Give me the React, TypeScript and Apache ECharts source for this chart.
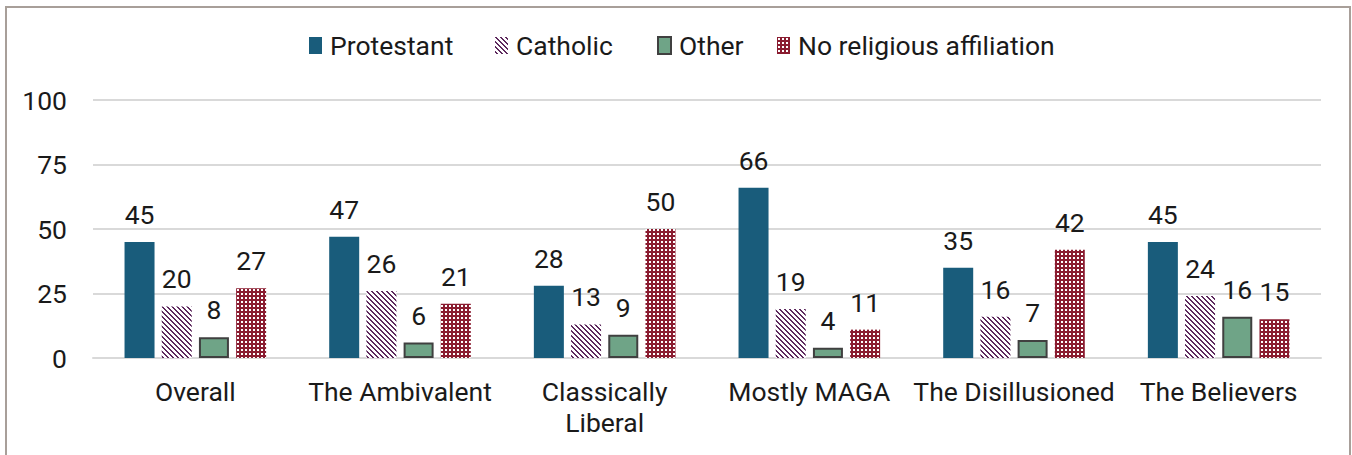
import React, { useEffect, useRef } from "react";
import * as echarts from "echarts";

const categories = ["Overall", "The Ambivalent", "Classically Liberal", "Mostly MAGA", "The Disillusioned", "The Believers"];
const seriesNames = ["Protestant", "Catholic", "Other", "No religious affiliation"];
const protestant = [45, 47, 28, 66, 35, 45];
const catholic = [20, 26, 13, 19, 16, 24];
const other = [8, 6, 9, 4, 7, 16];
const noReligion = [27, 21, 50, 11, 42, 15];
const yTicks = [0, 25, 50, 75, 100];

const FONT = "Roboto";
const TEXT = "#1a1a1a";
const legendLefts = [309, 495, 657, 777];

function stripePattern() {
  const c = document.createElement("canvas");
  const n = 5;
  c.width = n;
  c.height = n;
  const ctx = c.getContext("2d")!;
  ctx.fillStyle = "#ffffff";
  ctx.fillRect(0, 0, n, n);
  ctx.fillStyle = "#5e2a5e";
  for (let y = 0; y < n; y++) {
    for (let x = 0; x < n; x++) {
      const d = (((x - y) % n) + n) % n;
      if (d === 0 || d === 1) ctx.fillRect(x, y, 1, 1);
    }
  }
  return { image: c, repeat: "repeat" };
}

function dotPattern() {
  const c = document.createElement("canvas");
  c.width = 4;
  c.height = 4;
  const ctx = c.getContext("2d")!;
  ctx.fillStyle = "#8a1c30";
  ctx.fillRect(0, 0, 4, 4);
  ctx.fillStyle = "#ffffff";
  ctx.fillRect(1, 1, 2, 2);
  return { image: c, repeat: "repeat" };
}

export default function App() {
  const ref = useRef<HTMLDivElement>(null);
  useEffect(() => {
    if (!ref.current) return;
    const chart = echarts.init(ref.current, undefined, { renderer: "svg" });
    const label = {
      show: true,
      position: "top",
      distance: 14,
      fontFamily: FONT,
      fontSize: 26.5,
      color: TEXT,
    };
    const mk = (name: string, data: number[], itemStyle: any) => ({
      name,
      type: "bar",
      data,
      barWidth: 30,
      barGap: "24%",
      itemStyle,
      label,
    });
    chart.setOption({
      animation: false,
      textStyle: { fontFamily: FONT },
      legend: seriesNames.map((n, i) => ({
        top: 32,
        left: legendLefts[i],
        padding: 0,
        icon: "rect",
        itemWidth: 13,
        itemHeight: 17,
        textStyle: { fontFamily: FONT, fontSize: 26.5, color: TEXT, padding: [0, 0, 0, 3] },
        data: [n],
      })),
      grid: { left: 93, right: 31, top: 100, bottom: 97, containLabel: false },
      xAxis: {
        type: "category",
        data: categories,
        axisLine: { show: true, lineStyle: { color: "#d9d9d9", width: 2 } },
        axisTick: { show: false },
        axisLabel: {
          fontFamily: FONT,
          fontSize: 26.5,
          color: TEXT,
          margin: 18,
          lineHeight: 31,
          interval: 0,
          formatter: (v: string) => (v === "Classically Liberal" ? "Classically\nLiberal" : v),
        },
      },
      yAxis: {
        type: "value",
        min: yTicks[0],
        max: yTicks[yTicks.length - 1],
        interval: 25,
        axisLine: { show: false },
        axisTick: { show: false },
        axisLabel: { fontFamily: FONT, fontSize: 26.5, color: TEXT, margin: 26, padding: [0, 0, 3, 0] },
        splitLine: { lineStyle: { color: "#d9d9d9", width: 2 } },
      },
      series: [
        mk(seriesNames[0], protestant, { color: "#195c7b" }),
        mk(seriesNames[1], catholic, { color: stripePattern() }),
        mk(seriesNames[2], other, { color: "#6fa487", borderColor: "#404040", borderWidth: 2 }),
        mk(seriesNames[3], noReligion, { color: dotPattern() }),
      ],
    });
    return () => chart.dispose();
  }, []);
  return (
    <div style={{ position: "fixed", left: 0, top: 0, width: 1352, height: 455, background: "#fff", overflow: "hidden" }}>
      <div
        style={{
          position: "absolute",
          left: 5,
          top: 6,
          width: 1346,
          height: 470,
          boxSizing: "border-box",
          border: "2px solid #a89f99",
        }}
      />
      <div ref={ref} style={{ position: "absolute", left: 0, top: 0, width: 1352, height: 455 }} />
    </div>
  );
}
